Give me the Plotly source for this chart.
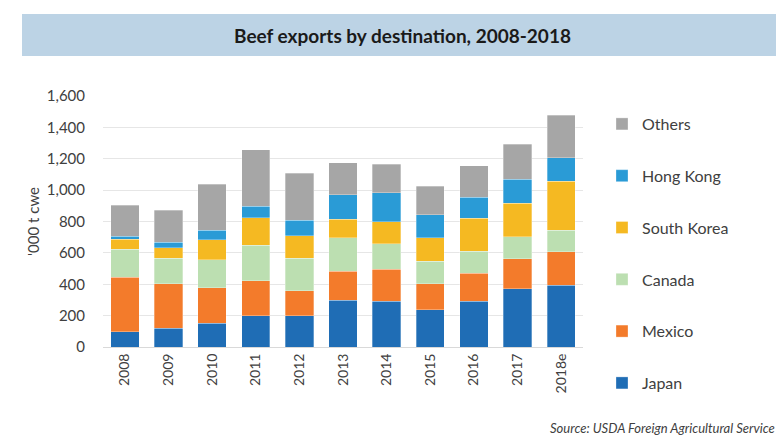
import plotly.graph_objects as go

years = ["2008", "2009", "2010", "2011", "2012", "2013", "2014", "2015", "2016", "2017", "2018e"]
japan = [96, 121, 153, 200, 200, 298, 293, 238, 293, 372, 395]
mexico = [350, 283, 225, 221, 159, 184, 202, 166, 177, 189, 211]
canada = [177, 163, 179, 229, 208, 213, 164, 144, 140, 142, 138]
south_korea = [65, 66, 127, 175, 143, 119, 138, 149, 210, 213, 314]
hong_kong = [17, 36, 60, 72, 98, 157, 185, 147, 134, 153, 149]
others = [198, 202, 293, 361, 301, 202, 183, 180, 200, 223, 270]

series = [
    ("Japan", japan, "#1f6db5"),
    ("Mexico", mexico, "#f37b2b"),
    ("Canada", canada, "#bcdfb1"),
    ("South Korea", south_korea, "#f5b922"),
    ("Hong Kong", hong_kong, "#2a9bd6"),
    ("Others", others, "#a6a6a6"),
]

W, H = 776, 435
L, R, T, B = 103, 583, 96, 347
FONT = "Lato, Open Sans, sans-serif"

def px_x(x):
    return (x - L) / (R - L)

def px_y(y):
    return (B - y) / (B - T)

fig = go.Figure()
for i, (name, vals, col) in enumerate(series):
    fig.add_trace(go.Bar(
        x=years, y=vals, name=name, legendgroup=name, legendrank=1000 - i,
        marker=dict(color=col, line=dict(color="rgba(255,255,255,0.5)", width=0.6)),
        hoverinfo="skip",
    ))

fig.update_layout(
    width=W, height=H,
    barmode="stack", bargap=0.35,
    paper_bgcolor="white", plot_bgcolor="white",
    margin=dict(l=L, r=W - R, t=T, b=H - B, pad=0),
    font=dict(family=FONT, color="#404040"),
    showlegend=True,
    legend=dict(
        x=px_x(602), y=px_y(107), xanchor="left", yanchor="top",
        traceorder="grouped", tracegroupgap=28, maxheight=420,
        font=dict(size=16, color="#404040"),
        bgcolor="rgba(0,0,0,0)",
    ),
    xaxis=dict(
        type="category", tickangle=-90, showgrid=False,
        tickfont=dict(size=14, color="#404040"),
        showline=True, linecolor="#d9d9d9", linewidth=1,
        ticks="", ticklen=0,
    ),
    yaxis=dict(
        range=[0, 1600], dtick=200, tickformat=",d",
        showgrid=True, gridcolor="#e6e6e6", gridwidth=1,
        zeroline=False, showline=False,
        tickfont=dict(size=15, color="#404040"),
        ticks="outside", ticklen=14, tickcolor="rgba(0,0,0,0)",
        title=dict(text="'000 t cwe", font=dict(size=15, color="#404040"), standoff=3),
    ),
    shapes=[dict(
        type="rect", xref="paper", yref="paper",
        x0=px_x(22), x1=px_x(776), y0=px_y(56), y1=px_y(14),
        fillcolor="#bcd3e5", line=dict(width=0), layer="below",
    )],
    annotations=[
        dict(text="<b>Beef exports by destination, 2008-2018</b>",
             xref="paper", yref="paper", x=px_x(402), y=px_y(35),
             xanchor="center", yanchor="middle", showarrow=False,
             font=dict(size=19, color="#1a1a1a", family=FONT)),
        dict(text="<i>Source: USDA Foreign Agricultural Service</i>",
             xref="paper", yref="paper", x=px_x(548), y=px_y(428),
             xanchor="left", yanchor="middle", showarrow=False,
             font=dict(size=13, color="#404040", family=FONT)),
    ],
)

fig.write_html("out.html")
